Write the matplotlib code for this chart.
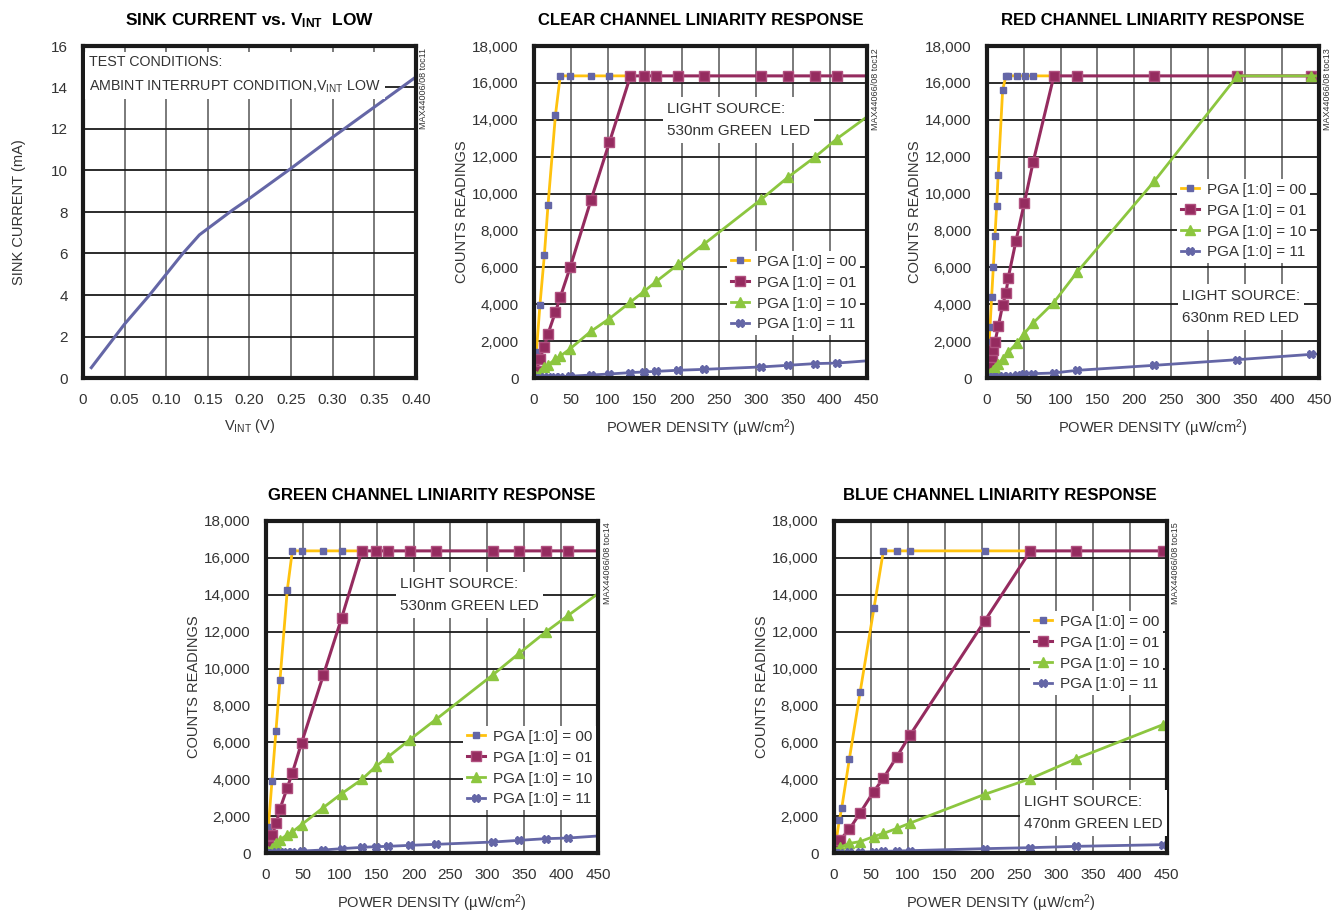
import matplotlib
matplotlib.use('Agg')
import matplotlib.pyplot as plt
from matplotlib.ticker import FuncFormatter

plt.rcParams['font.family'] = ['Liberation Sans', 'DejaVu Sans']
plt.rcParams['mathtext.fontset'] = 'custom'
plt.rcParams['mathtext.rm'] = 'Liberation Sans'
plt.rcParams['mathtext.bf'] = 'Liberation Sans:bold'
plt.rcParams['mathtext.default'] = 'rm'

# ---- data ----
vint = [0.01, 0.05, 0.08, 0.10, 0.12, 0.14, 0.15, 0.18, 0.20, 0.25, 0.30, 0.35, 0.40]
sink = [0.5, 2.6, 4.0, 5.0, 6.0, 6.9, 7.2, 8.1, 8.65, 10.1, 11.6, 13.05, 14.5]

# clear channel
clear_x00 = [0.5, 3.2, 8, 14, 19, 29, 35.5, 49, 77, 102, 130]
clear_y00 = [150, 1400, 3950, 6650, 9400, 14250, 16380, 16380, 16380, 16380, 16380]
clear_x = [0.5, 3.2, 8, 14, 19, 29, 35.5, 49, 77, 102, 130.5, 149, 165.5, 195, 230.5, 307.5, 344, 380, 410, 460]
clear_y01 = [50, 380, 1050, 1700, 2400, 3580, 4380, 6010, 9640, 12780, 16380, 16380, 16380, 16380,
             16380, 16380, 16380, 16380, 16380, 16380]
clear_y10 = [10, 100, 260, 600, 720, 1010, 1180, 1590, 2530, 3220, 4120, 4700, 5240, 6160, 7280,
             9690, 10900, 11980, 12980, 14440]
clear_y11 = [0, 10, 20, 40, 50, 70, 80, 100, 160, 220, 290, 330, 360, 420, 470, 600, 690, 780, 810, 960]

# red channel
red_x00 = [0.5, 2.2, 3.3, 4.5, 6.7, 9, 11.2, 13.5, 15.5, 21.6, 26, 29.3, 40.6, 51.5, 63, 91]
red_y00 = [100, 1200, 1960, 2770, 4400, 6030, 7700, 9340, 11020, 15610, 16380, 16380, 16380, 16380, 16380, 16380]
red_x01 = [0.5, 2.2, 4.5, 6.7, 9, 11.2, 15.7, 21.6, 26, 29.2, 39.6, 51, 63, 91, 122.6, 227, 339.5, 439.6, 460]
red_y01 = [30, 300, 700, 1150, 1500, 1950, 2800, 3960, 4590, 5440, 7430, 9500, 11730, 16380, 16380,
           16380, 16380, 16380, 16380]
red_x = [0.5, 4.5, 6.7, 9, 11.2, 15.7, 21.6, 29.3, 40.6, 51, 63, 90.6, 122.6, 226.8, 339.5, 439.6, 460]
red_y10 = [20, 250, 350, 450, 560, 760, 1020, 1420, 1880, 2410, 2990, 4080, 5750, 10660, 16380, 16380, 16380]
red_y11 = [5, 20, 30, 40, 50, 70, 90, 127, 163, 199, 235, 271, 416, 687, 994, 1283, 1320]

# green channel
green_x00 = [0.5, 3.2, 8.1, 13.5, 19, 28.9, 35.7, 48.3, 77.6, 102.5, 130]
green_y00 = [150, 1410, 3900, 6620, 9400, 14280, 16380, 16380, 16380, 16380, 16380]
green_x = [0.5, 3.2, 8.6, 14, 19, 28.9, 35.7, 48.3, 77.6, 102.5, 130, 149, 165.2, 195, 230.6, 307.8,
           343.5, 379.1, 409.8, 460]
green_y01 = [50, 380, 1000, 1630, 2400, 3540, 4340, 5980, 9630, 12740, 16380, 16380, 16380, 16380,
             16380, 16380, 16380, 16380, 16380, 16380]
green_y10 = [10, 100, 280, 540, 720, 990, 1140, 1540, 2460, 3220, 3990, 4700, 5200, 6150, 7250,
             9670, 10840, 11980, 12890, 14350]
green_y11 = [0, 10, 20, 40, 50, 70, 80, 108, 163, 235, 307, 343, 361, 416, 470, 596, 687, 777, 813, 950]

# blue channel
blue_x00 = [0.5, 2.7, 7.2, 10.4, 20.7, 35.4, 54, 66.8, 84.8, 102.8, 203.8, 265.6]
blue_y00 = [100, 620, 1780, 2420, 5080, 8740, 13260, 16380, 16380, 16380, 16380, 16380]
blue_x = [0.5, 2.7, 8.1, 20.7, 35.6, 53.5, 66.8, 84.8, 102.8, 203.8, 265.6, 327.8, 445, 460]
blue_y01 = [30, 300, 700, 1280, 2190, 3320, 4050, 5210, 6390, 12580, 16380, 16380, 16380, 16380]
blue_y10 = [10, 60, 300, 520, 620, 890, 1060, 1330, 1620, 3180, 4030, 5115, 6960, 7180]
blue_y11 = [0, 10, 25, 36, 54, 72, 90, 108, 127, 235, 289, 361, 452, 460]

labels = ['PGA [1:0] = 00', 'PGA [1:0] = 01', 'PGA [1:0] = 10', 'PGA [1:0] = 11']

YEL = '#FFC20E'
MAR = '#952B5F'
GRN = '#8CC63F'
BLU = '#6466A6'
TXT = '#333333'
styles = [
    dict(color=YEL, marker='s', mfc=BLU, mec=BLU, ms=5, lw=2.0),
    dict(color=MAR, marker='s', mfc=MAR, mec='#B0507F', ms=6.5, lw=2.2),
    dict(color=GRN, marker='^', mfc=GRN, mec=GRN, ms=7, lw=2.0),
    dict(color=BLU, marker='X', mfc=BLU, mec=BLU, ms=6, lw=2.0),
]

FS = 11     # legend / note text
FL = 10.5   # axis labels

W, H = 1343, 913
fig = plt.figure(figsize=(W / 100, H / 100), dpi=100)


def px_axes(left, top, right, bottom):
    return fig.add_axes([left / W, 1 - bottom / H, (right - left) / W, (bottom - top) / H])


def frame(ax):
    for s in ax.spines.values():
        s.set_linewidth(3)
        s.set_color('#1a1a1a')
    ax.xaxis.grid(True, color='#707070', lw=1.3)
    ax.yaxis.grid(True, color='#1a1a1a', lw=1.3)
    ax.set_axisbelow(True)
    ax.tick_params(length=0, labelsize=11, colors=TXT)
    ax.tick_params(axis='x', pad=11)
    ax.tick_params(axis='y', pad=11)


def tag(x, y, s):
    fig.text(x / W, 1 - y / H, s, rotation=90, fontsize=6.5, color=TXT, ha='center', va='top')


def note(x, y, s, fs=FS):
    fig.text(x / W, 1 - y / H, s, fontsize=fs, color=TXT, ha='left', va='center',
             linespacing=1.8, bbox=dict(fc='white', ec='none', pad=3))


def channel(ax, title, series, src, src_xy, leg_xy, toc):
    frame(ax)
    for (xs, ys), st, lab in zip(series, styles, labels):
        ax.plot(xs, ys, label=lab, **st)
    ax.set_xlim(0, 450)
    ax.set_ylim(0, 18000)
    ax.set_xticks(range(0, 451, 50))
    ax.set_yticks(range(0, 18001, 2000))
    ax.yaxis.set_major_formatter(FuncFormatter(lambda v, p: f'{int(v):,}'))
    ax.set_title(title, fontsize=12, fontweight='bold', pad=15)
    ax.set_xlabel('POWER DENSITY (µW/cm$^{2}$)', fontsize=FL, color=TXT, labelpad=7)
    ax.set_ylabel('COUNTS READINGS', fontsize=FL, color=TXT, labelpad=2)
    note(src_xy[0], src_xy[1], src)
    lg = ax.legend(loc='upper left', bbox_to_anchor=(leg_xy[0] / W, 1 - leg_xy[1] / H),
                   bbox_transform=fig.transFigure, fontsize=FS, frameon=True, fancybox=False,
                   framealpha=1, edgecolor='none', facecolor='white', handlelength=1.2,
                   handletextpad=0.5, labelspacing=0.45, borderpad=0.25, borderaxespad=0)
    for t in lg.get_texts():
        t.set_color(TXT)
    tag(toc[0], toc[1], toc[2])


# ---- panel 1: sink current ----
ax1 = px_axes(83, 46, 415.7, 378)
frame(ax1)
ax1.plot(vint, sink, color=BLU, lw=2.2)
ax1.set_xlim(0, 0.40)
ax1.set_ylim(0, 16)
ax1.set_xticks([0, 0.05, 0.10, 0.15, 0.20, 0.25, 0.30, 0.35, 0.40])
ax1.set_yticks(range(0, 17, 2))
ax1.xaxis.set_major_formatter(FuncFormatter(lambda v, p: '0' if v == 0 else f'{v:.2f}'))
ax1.set_title(r'SINK CURRENT vs. V$_{\mathbf{INT}}$  LOW', fontsize=12.5, fontweight='bold', pad=15)
ax1.set_xlabel(r'V$_{\mathrm{INT}}$ (V)', fontsize=FL, color=TXT, labelpad=7)
ax1.set_ylabel('SINK CURRENT (mA)', fontsize=FL, color=TXT, labelpad=18)
note(89, 75, 'TEST CONDITIONS:\nAMBINT INTERRUPT CONDITION,V$_{\\mathrm{INT}}$ LOW', fs=10.3)
tag(423, 48, 'MAX44006/08 toc11')

# ---- panel 2: clear ----
ax2 = px_axes(534, 46, 866.7, 378)
channel(ax2, 'CLEAR CHANNEL LINIARITY RESPONSE',
        [(clear_x00, clear_y00), (clear_x, clear_y01), (clear_x, clear_y10), (clear_x, clear_y11)],
        'LIGHT SOURCE:\n530nm GREEN  LED', (667, 120), (727, 251), (876, 48, 'MAX44066/08 toc12'))

# ---- panel 3: red ----
ax3 = px_axes(986.7, 46, 1319, 378)
channel(ax3, 'RED CHANNEL LINIARITY RESPONSE',
        [(red_x00, red_y00), (red_x01, red_y01), (red_x, red_y10), (red_x, red_y11)],
        'LIGHT SOURCE:\n630nm RED LED', (1182, 307), (1177, 179), (1328, 48, 'MAX44066/08 toc13'))

# ---- panel 4: green ----
ax4 = px_axes(266, 521, 598, 853)
channel(ax4, 'GREEN CHANNEL LINIARITY RESPONSE',
        [(green_x00, green_y00), (green_x, green_y01), (green_x, green_y10), (green_x, green_y11)],
        'LIGHT SOURCE:\n530nm GREEN LED', (400, 595), (463, 726), (607, 522, 'MAX44066/08 toc14'))

# ---- panel 5: blue ----
ax5 = px_axes(834, 521, 1166.7, 853)
channel(ax5, 'BLUE CHANNEL LINIARITY RESPONSE',
        [(blue_x00, blue_y00), (blue_x, blue_y01), (blue_x, blue_y10), (blue_x, blue_y11)],
        'LIGHT SOURCE:\n470nm GREEN LED', (1024, 813), (1030, 611), (1176, 522, 'MAX44066/08 toc15'))

fig.savefig('out.png', dpi=100)
